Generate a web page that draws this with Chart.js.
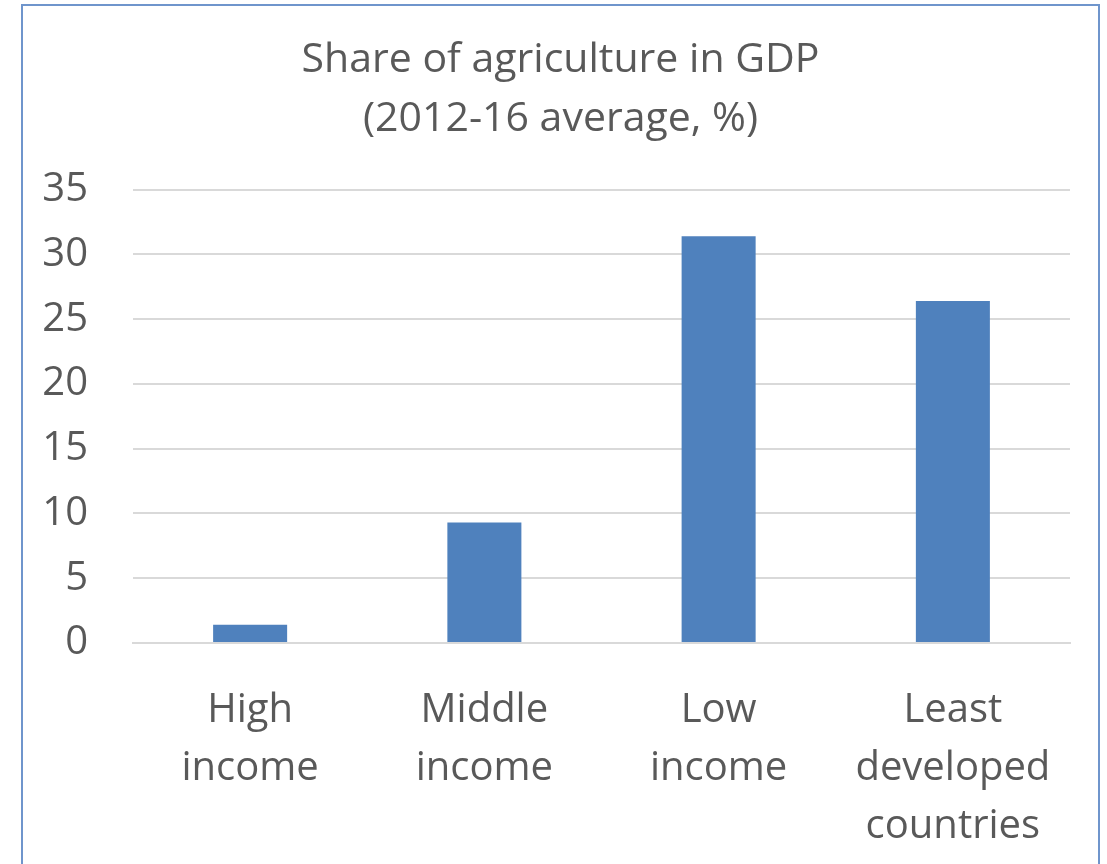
<!DOCTYPE html>
<html>
<head>
<meta charset="utf-8">
<script src="https://cdn.jsdelivr.net/npm/chart.js@4"></script>
<style>
  body { margin: 0; background: #fff; overflow: hidden; }
  #wrap { position: relative; width: 1107px; height: 864px; }
  #frame { position: absolute; left: 21px; top: 4px; width: 1079px; height: 900px; border: 2px solid #6f95cc; box-sizing: border-box; }
  canvas { position: absolute; left: 0; top: 0; }
</style>
</head>
<body>
<div id="wrap">
  <div id="frame"></div>
  <canvas id="bar-chart" width="1107" height="864"></canvas>
</div>
<script>
var categories = [["High", "income"], ["Middle", "income"], ["Low", "income"], ["Least", "developed", "countries"]];
var shareValues = [1.4, 9.3, 31.4, 26.4];
var yTicks = [0, 5, 10, 15, 20, 25, 30, 35];

var textColor = "#595959";
var fontFamily = "'Open Sans', 'Liberation Sans', sans-serif";

// centre the title on the framed box rather than the padded canvas
var centerTitle = {
  id: 'centerTitle',
  afterLayout: function (chart) {
    if (chart.titleBlock) {
      chart.titleBlock.left = 22;
      chart.titleBlock.right = 1099;
    }
  }
};

var ctx = document.getElementById('bar-chart').getContext('2d');
var myChart = new Chart(ctx, {
  type: 'bar',
  data: {
    labels: categories,
    datasets: [{
      data: shareValues,
      backgroundColor: "#4f81bd",
      barPercentage: 0.316,
      categoryPercentage: 1
    }]
  },
  plugins: [centerTitle],
  options: {
    responsive: false,
    animation: false,
    layout: { padding: { top: 30, right: 37, bottom: 0, left: 0 } },
    plugins: {
      legend: { display: false },
      tooltip: { enabled: false },
      title: {
        display: true,
        text: ["Share of agriculture in GDP", "(2012-16 average, %)"],
        color: textColor,
        font: { family: fontFamily, size: 41, weight: 'normal', lineHeight: 1.46 },
        padding: { top: 0, bottom: 40 }
      }
    },
    scales: {
      x: {
        grid: { display: false },
        border: { color: "#d9d9d9", width: 2 },
        ticks: {
          color: textColor,
          padding: 30,
          maxRotation: 0,
          font: { family: fontFamily, size: 40, lineHeight: 1.46 }
        },
        afterFit: function (scale) { scale.height = 221; }
      },
      y: {
        min: 0,
        max: 35,
        afterBuildTicks: function (scale) {
          scale.ticks = yTicks.map(function (v) { return { value: v }; });
        },
        grid: { color: "#d9d9d9", lineWidth: 2, drawTicks: false },
        border: { display: false },
        ticks: {
          color: textColor,
          padding: 45,
          font: { family: fontFamily, size: 40 }
        },
        afterFit: function (scale) { scale.width = 133; }
      }
    }
  }
});
</script>
</body>
</html>
